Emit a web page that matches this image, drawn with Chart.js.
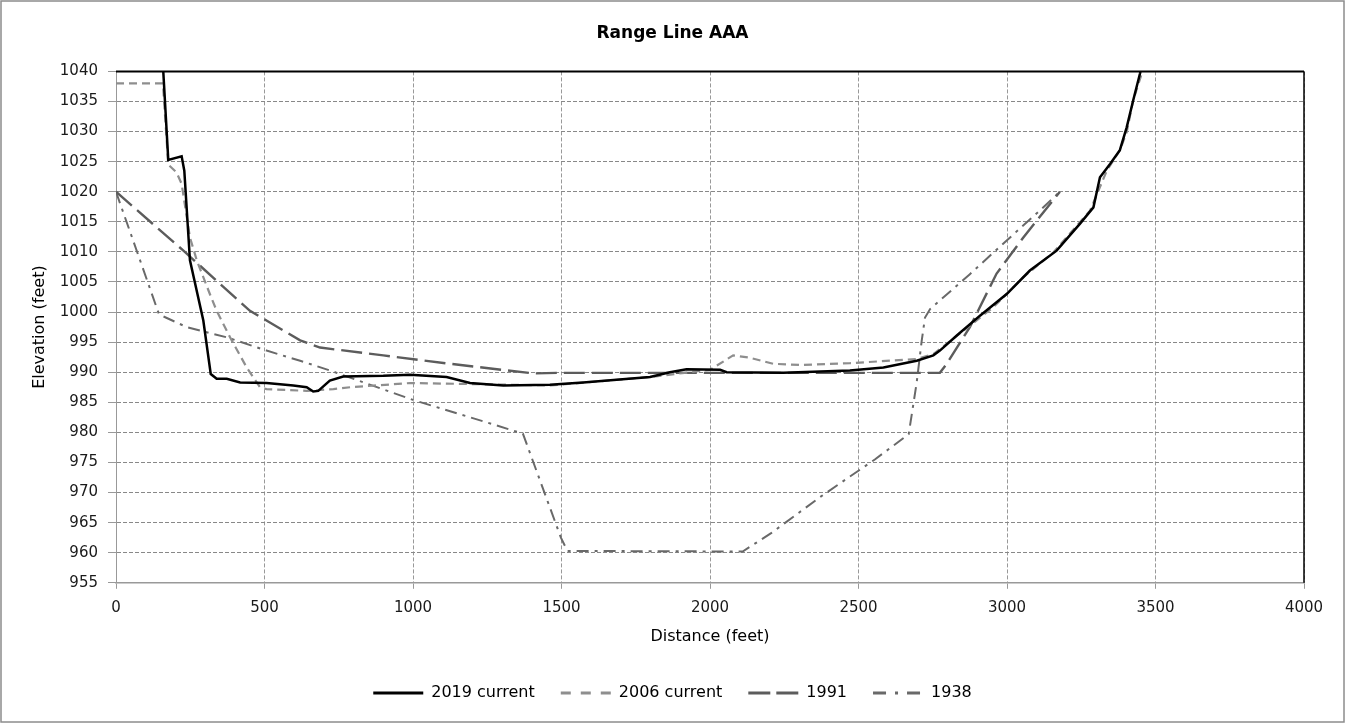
<!DOCTYPE html>
<html>
<head>
<meta charset="utf-8">
<title>Range Line AAA</title>
<script src="https://cdn.jsdelivr.net/npm/chart.js@4.4.1/dist/chart.umd.min.js"></script>
<style>
html, body { margin: 0; padding: 0; background: #fff; }
#wrap { position: relative; width: 1345px; height: 723px; }
</style>
</head>
<body>
<div id="wrap"><canvas id="rangeChart" width="1345" height="723"></canvas></div>
<script>
// cross section surveys: distance along the range line (ft) and ground elevation (ft)
const dist2019 = [150, 176, 221, 230, 249, 294, 319, 339, 373, 418, 507, 597, 642, 664, 681, 720, 765, 900, 990,
  1113, 1192, 1304, 1461, 1573, 1798, 1865, 1921, 2034, 2056, 2247, 2471, 2584, 2696, 2752, 2774, 2831, 2909,
  2999, 3077, 3167, 3246, 3291, 3313, 3347, 3380, 3403, 3425, 3448, 3458];
const elev2019 = [1048, 1025.3, 1025.9, 1023.5, 1008.6, 998.6, 989.7, 988.9, 988.9, 988.3, 988.2, 987.8, 987.5, 986.8, 986.9, 988.6, 989.3, 989.4, 989.6,
  989.2, 988.2, 987.8, 987.9, 988.3, 989.2, 990.0, 990.5, 990.4, 990.0, 989.9, 990.3, 990.8, 991.9, 992.8, 993.6, 996.1, 999.4,
  1003.0, 1006.9, 1010.2, 1014.7, 1017.4, 1022.4, 1024.6, 1026.9, 1030.7, 1035.2, 1039.7, 1042];

const dist2006 = [0, 158, 176, 204, 221, 249, 272, 316, 339, 384, 440, 485, 507, 642, 732, 788, 990, 1237, 1461,
  1798, 2000, 2078, 2135, 2213, 2303, 2471, 2696, 2752, 2853, 2954, 3055, 3156, 3280, 3336, 3380, 3403, 3425, 3454, 3462];
const elev2006 = [1038, 1038, 1024.5, 1023.2, 1021.3, 1012.4, 1008.6, 1003.0, 1000.2, 995.8, 990.8, 987.5, 987.2, 986.9, 987.2, 987.5, 988.2, 988.0, 987.8,
  989.2, 990.4, 992.8, 992.4, 991.4, 991.2, 991.5, 992.2, 993.0, 996.9, 1000.8, 1005.8, 1009.9, 1016.9, 1023.5, 1026.9, 1029.9, 1035.2, 1039.7, 1041.5];

const dist1991 = [0, 227, 451, 620, 687, 900, 1125, 1405, 1500, 2774, 2797, 2875, 2965, 3055, 3178];
const elev1991 = [1020, 1010.2, 1000.2, 995.3, 994.1, 992.8, 991.4, 989.8, 989.9, 989.9, 991.4, 997.5, 1006.4, 1012.4, 1020];

const dist1938 = [0, 145, 238, 373, 507, 620, 720, 1000, 1226, 1370, 1498, 1520, 2110, 2207, 2375, 2555, 2669,
  2696, 2713, 2724, 2741, 2875, 2999, 3111, 3178];
const elev1938 = [1020, 999.6, 997.5, 995.8, 993.6, 991.9, 990.3, 985.4, 982.0, 979.8, 962.5, 960.3, 960.2, 963.3, 969.4, 975.5, 979.7,
  988.3, 995.3, 999.1, 1000.5, 1006.3, 1011.9, 1016.9, 1020];

const seriesNames = ['2019 current', '2006 current', '1991', '1938'];
const xTicks = [0, 500, 1000, 1500, 2000, 2500, 3000, 3500, 4000];
const yTicks = [955, 960, 965, 970, 975, 980, 985, 990, 995, 1000, 1005, 1010, 1015, 1020, 1025, 1030, 1035, 1040];

const pts = (xs, ys) => xs.map((x, i) => ({ x: x, y: ys[i] }));

Chart.defaults.font.family = "'DejaVu Sans', sans-serif";
Chart.defaults.color = '#1a1a1a';

// white page with a thin grey frame, black edge on top/right of the plot
const frame = {
  id: 'frame',
  beforeDraw(chart) {
    const c = chart.ctx;
    c.save();
    c.fillStyle = '#fff';
    c.fillRect(0, 0, chart.width, chart.height);
    c.strokeStyle = '#8c8c8c';
    c.lineWidth = 1.5;
    c.strokeRect(1, 1, chart.width - 2, chart.height - 2);
    c.restore();
  },
  afterDatasetsDraw(chart) {
    const a = chart.chartArea;
    const c = chart.ctx;
    c.save();
    c.strokeStyle = '#000';
    c.lineWidth = 2;
    c.beginPath();
    c.moveTo(a.left, a.top);
    c.lineTo(a.right, a.top);
    c.stroke();
    c.lineWidth = 1.5;
    c.beginPath();
    c.moveTo(a.right, a.top);
    c.lineTo(a.right, a.bottom);
    c.stroke();
    c.restore();
  }
};

const datasets = [
  { label: seriesNames[0], data: pts(dist2019, elev2019), borderColor: '#000', borderWidth: 2.5, keyDash: [] },
  { label: seriesNames[1], data: pts(dist2006, elev2006), borderColor: '#8e8e8e', borderWidth: 2.2, borderDash: [8, 5], keyDash: [10, 10] },
  { label: seriesNames[2], data: pts(dist1991, elev1991), borderColor: '#5c5c5c', borderWidth: 2.4, borderDash: [21, 7], keyDash: [22, 6] },
  { label: seriesNames[3], data: pts(dist1938, elev1938), borderColor: '#696969', borderWidth: 2, borderDash: [12, 6, 3, 6], keyDash: [13, 9, 3, 9] }
].map(d => Object.assign(d, { showLine: true, pointRadius: 0, tension: 0, fill: false, backgroundColor: d.borderColor }));

new Chart(document.getElementById('rangeChart'), {
  type: 'scatter',
  data: { datasets: datasets },
  options: {
    responsive: false,
    animation: false,
    layout: { padding: { left: 0, right: 0, top: 10, bottom: 12 } },
    plugins: {
      title: {
        display: true,
        text: 'Range Line AAA',
        color: '#000',
        font: { size: 17, weight: 'bold' },
        padding: { top: 13, bottom: 28 }
      },
      legend: {
        position: 'bottom',
        labels: {
          usePointStyle: true,
          pointStyle: 'line',
          pointStyleWidth: 50,
          padding: 26,
          color: '#000',
          font: { size: 16 },
          generateLabels: chart => chart.data.datasets.map((d, i) => ({
            text: d.label,
            datasetIndex: i,
            strokeStyle: d.borderColor,
            fillStyle: d.borderColor,
            fontColor: '#000',
            lineWidth: 3,
            lineDash: d.keyDash,
            lineCap: 'butt',
            pointStyle: 'line',
            hidden: false
          }))
        }
      },
      tooltip: { enabled: false }
    },
    scales: {
      x: {
        type: 'linear',
        min: 0,
        max: 4000,
        afterBuildTicks: s => { s.ticks = xTicks.map(v => ({ value: v })); },
        afterFit: s => { s.paddingRight = 41; },
        ticks: { padding: 10, font: { size: 15 }, color: '#1a1a1a', callback: v => String(v) },
        grid: { color: '#999', lineWidth: 1, tickLength: 6, tickColor: '#999' },
        border: { color: '#999', width: 1.5, dash: [4, 2] },
        title: { display: true, text: 'Distance (feet)', color: '#000', font: { size: 16 }, padding: { top: 0, bottom: 13 } }
      },
      y: {
        type: 'linear',
        min: 955,
        max: 1040,
        afterBuildTicks: s => { s.ticks = yTicks.map(v => ({ value: v })); },
        afterFit: s => { s.width = 116; },
        ticks: { padding: 10, font: { size: 15 }, color: '#1a1a1a', callback: v => String(v) },
        grid: { color: '#888', lineWidth: 1, tickLength: 8, tickColor: '#999' },
        border: { color: '#999', width: 1, dash: [4, 2] },
        title: { display: true, text: 'Elevation (feet)', color: '#000', font: { size: 16 }, padding: { top: 30, bottom: 0 } }
      }
    }
  },
  plugins: [frame]
});
</script>
</body>
</html>
